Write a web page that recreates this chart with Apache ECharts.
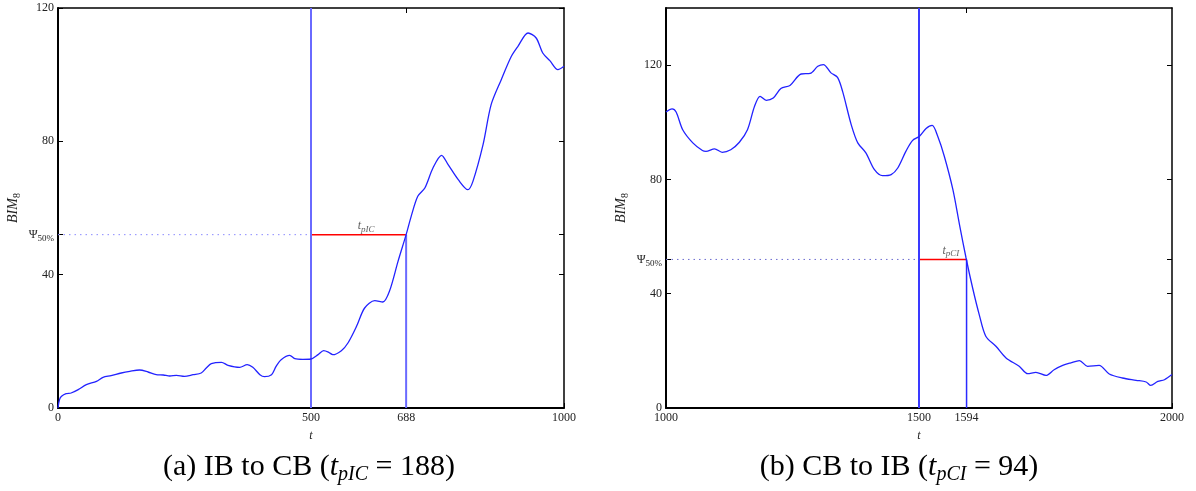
<!DOCTYPE html>
<html>
<head>
<meta charset="utf-8">
<script src="https://cdn.jsdelivr.net/npm/echarts@6/dist/echarts.min.js"></script>
<style>
  html, body { margin: 0; padding: 0; background: #fff; }
  #chart { width: 1196px; height: 491px; }
</style>
</head>
<body>
<div id="chart"></div>
<script>
// ---- Data ----
// Panel (a): IB to CB
const leftT = [0, 3, 7, 16, 26, 40, 56, 76, 89, 105, 125, 142, 161, 178, 194, 208, 221, 234, 250, 267, 283, 293, 303, 323, 336, 359, 374, 385, 399, 408, 422, 431, 441, 458, 468, 484, 500, 514, 525, 535, 543, 560, 573, 590, 606, 626, 642, 655, 672, 688, 698, 711, 725, 741, 758, 771, 791, 810, 820, 840, 856, 876, 896, 909, 929, 945, 958, 972, 988, 1000];
const leftV = [0, 2.5, 3.5, 4.3, 4.5, 5.5, 7, 8, 9.2, 9.7, 10.5, 11, 11.4, 10.8, 10, 9.9, 9.6, 9.8, 9.5, 10, 10.5, 12, 13.3, 13.7, 12.8, 12.2, 13, 12.2, 10, 9.4, 10, 12.5, 14.5, 15.8, 14.8, 14.6, 14.7, 16, 17.2, 16.7, 16, 17.2, 19.5, 24.5, 30, 32.2, 31.8, 35, 44, 52, 57.5, 63.5, 66, 72, 75.8, 73, 68.5, 65.5, 68, 79, 91, 98.5, 105.5, 108.5, 112.5, 111, 106.5, 104.2, 101.5, 102.5];
// Panel (b): CB to IB
const rightT = [1000, 1012, 1020, 1033, 1053, 1072, 1079, 1096, 1111, 1128, 1145, 1161, 1175, 1186, 1198, 1212, 1227, 1245, 1267, 1285, 1300, 1311, 1326, 1339, 1349, 1366, 1379, 1395, 1412, 1428, 1445, 1458, 1474, 1487, 1501, 1514, 1526, 1537, 1550, 1567, 1580, 1593, 1606, 1619, 1632, 1652, 1672, 1698, 1715, 1731, 1751, 1767, 1784, 1800, 1817, 1833, 1856, 1876, 1902, 1929, 1949, 1958, 1972, 1985, 2000];
const rightV = [103.6, 104.7, 103.6, 97.4, 92.8, 90.1, 89.8, 90.7, 89.5, 90.4, 93, 97.4, 105.6, 109.1, 107.7, 108.5, 111.8, 112.9, 116.9, 117.1, 119.6, 120.2, 117.3, 115.7, 110.8, 99.2, 92.8, 89.3, 83.4, 81.3, 81.7, 84, 89.8, 93.6, 95.1, 97.8, 98.9, 95.1, 88.1, 76.4, 64.2, 52.5, 42, 32.7, 25.1, 21.6, 17.5, 14.6, 12, 12.5, 11.4, 13.4, 14.9, 15.8, 16.6, 14.6, 14.9, 11.9, 10.5, 9.7, 9.1, 7.9, 9.3, 9.9, 11.7];

// Threshold / switch points
const psi50 = 52;
const leftXRange = [0, 1000];
const rightXRange = [1000, 2000];
const leftSwitch = 500, leftCross = 688;     // t_pIC = 188
const rightSwitch = 1500, rightCross = 1594; // t_pCI = 94
const leftYMax = 120, rightYMax = 140;

// Tick labels
const leftXTicks = [0, 500, 688, 1000];
const rightXTicks = [1000, 1500, 1594, 2000];
const yTicks = [0, 40, psi50, 80, 120];
const captionA = { pre: '(a) IB to CB (', sym: 't', sub: 'pIC', post: ' = 188)' };
const captionB = { pre: '(b) CB to IB (', sym: 't', sub: 'pCI', post: ' = 94)' };

// ---- Chart ----
const FONT = "'Liberation Serif', 'DejaVu Serif', serif";
const chart = echarts.init(document.getElementById('chart'), null, { renderer: 'canvas' });

const zip = (a, b) => a.map((v, i) => [v, b[i]]);

function yLabelFmt(v) {
  if (Math.abs(v - psi50) < 1e-9) return '{psi|Ψ}{sub|50%}';
  return String(v);
}
const yRich = {
  psi: { fontFamily: FONT, fontSize: 12, color: '#222' },
  sub: { fontFamily: FONT, fontSize: 9, color: '#222', padding: [8, 0, 0, 0] }
};

function makeAxes(gi, xr, xticks, ymax) {
  const xBottom = {
    type: 'value', gridIndex: gi, min: xr[0], max: xr[1], position: 'bottom',
    name: 't', nameLocation: 'middle', nameGap: 22,
    nameTextStyle: { fontFamily: FONT, fontStyle: 'italic', fontSize: 12, color: '#222' },
    axisLine: { show: true, onZero: false, lineStyle: { color: '#000', width: 2 } },
    axisTick: { show: true, inside: true, length: 5, customValues: xticks, lineStyle: { color: '#000', width: 1 } },
    axisLabel: { show: true, customValues: xticks, margin: 4, fontFamily: FONT, fontSize: 12, color: '#222', formatter: v => String(v) },
    splitLine: { show: false }
  };
  const xTop = {
    type: 'value', gridIndex: gi, min: xr[0], max: xr[1], position: 'top',
    axisLine: { show: true, onZero: false, lineStyle: { color: '#000', width: 1.5 } },
    axisTick: { show: true, inside: true, length: 5, customValues: xticks.slice(1, 3), lineStyle: { color: '#000', width: 1 } },
    axisLabel: { show: false },
    splitLine: { show: false }
  };
  const yLeft = {
    type: 'value', gridIndex: gi, min: 0, max: ymax, position: 'left',
    name: '{n|BIM}{s|8}', nameLocation: 'middle', nameGap: 36, nameRotate: 90,
    nameTextStyle: {
      rich: {
        n: { fontFamily: FONT, fontStyle: 'italic', fontSize: 14, color: '#222' },
        s: { fontFamily: FONT, fontSize: 10, color: '#222', padding: [8, 0, 0, 0] }
      }
    },
    axisLine: { show: true, onZero: false, lineStyle: { color: '#000', width: 2 } },
    axisTick: { show: true, inside: true, length: 5, customValues: yTicks, lineStyle: { color: '#000', width: 1 } },
    axisLabel: { show: true, customValues: yTicks, margin: 4, fontFamily: FONT, fontSize: 12, color: '#222', formatter: yLabelFmt, rich: yRich },
    splitLine: { show: false }
  };
  const yRight = {
    type: 'value', gridIndex: gi, min: 0, max: ymax, position: 'right',
    axisLine: { show: true, onZero: false, lineStyle: { color: '#000', width: 1.5 } },
    axisTick: { show: true, inside: true, length: 5, customValues: yTicks, lineStyle: { color: '#000', width: 1 } },
    axisLabel: { show: false },
    splitLine: { show: false }
  };
  return { x: [xBottom, xTop], y: [yLeft, yRight] };
}

const axA = makeAxes(0, leftXRange, leftXTicks, leftYMax);
const axB = makeAxes(1, rightXRange, rightXTicks, rightYMax);

function panelSeries(xi, yi, t, v, xr, sw, cr, ymax, vColor1, vColor2, vW1, vW2, dotColor, labelSub, labelX) {
  return [
    { // dotted threshold
      type: 'line', xAxisIndex: xi, yAxisIndex: yi, showSymbol: false, silent: true,
      data: [[xr[0], psi50], [sw, psi50]],
      lineStyle: { color: dotColor, width: 1, type: [1.5, 4] }, z: 2
    },
    { // red segment
      type: 'line', xAxisIndex: xi, yAxisIndex: yi, showSymbol: false, silent: true,
      data: [[sw, psi50], [cr, psi50]],
      lineStyle: { color: '#ff0000', width: 1.5 }, z: 3
    },
    { // vertical at switch
      type: 'line', xAxisIndex: xi, yAxisIndex: yi, showSymbol: false, silent: true,
      data: [[sw, 0], [sw, ymax]],
      lineStyle: { color: vColor1, width: vW1 }, z: 4
    },
    { // vertical at crossing
      type: 'line', xAxisIndex: xi, yAxisIndex: yi, showSymbol: false, silent: true,
      data: [[cr, 0], [cr, psi50]],
      lineStyle: { color: vColor2, width: vW2 }, z: 4
    },
    { // curve
      type: 'line', xAxisIndex: xi, yAxisIndex: yi, showSymbol: false, silent: true,
      smooth: 0.3, data: zip(t, v),
      lineStyle: { color: '#2222ff', width: 1.3 }, z: 5
    },
    { // label t_p..
      type: 'scatter', xAxisIndex: xi, yAxisIndex: yi, symbolSize: 0, silent: true,
      data: [[labelX, psi50]],
      label: {
        show: true, position: 'top', distance: 1,
        formatter: '{t|t}{s|' + labelSub + '}',
        rich: {
          t: { fontFamily: FONT, fontStyle: 'italic', fontSize: 12, color: '#333' },
          s: { fontFamily: FONT, fontStyle: 'italic', fontSize: 9, color: '#333', padding: [7, 0, 0, 0] }
        }
      }, z: 6
    }
  ];
}

function captionRich(c) {
  return '{a|' + c.pre + '}{i|' + c.sym + '}{s|' + c.sub + '}{a|' + c.post + '}';
}
const capRich = {
  a: { fontFamily: FONT, fontSize: 30, color: '#000' },
  i: { fontFamily: FONT, fontStyle: 'italic', fontSize: 30, color: '#000' },
  s: { fontFamily: FONT, fontStyle: 'italic', fontSize: 20, color: '#000', padding: [16, 0, 0, 0] }
};

chart.setOption({
  animation: false,
  backgroundColor: '#fff',
  grid: [
    { left: 58, top: 8, width: 506, height: 400 },
    { left: 666, top: 8, width: 506, height: 400 }
  ],
  xAxis: [...axA.x, ...axB.x],
  yAxis: [...axA.y, ...axB.y],
  series: [
    ...panelSeries(0, 0, leftT, leftV, leftXRange, leftSwitch, leftCross, leftYMax, '#6a6aff', '#6a6aff', 2, 2, '#8a8aff', 'pIC', 609),
    ...panelSeries(2, 2, rightT, rightV, rightXRange, rightSwitch, rightCross, rightYMax, '#3a3aff', '#2a2aff', 2, 1.5, '#6a6ad0', 'pCI', 1563)
  ],
  graphic: [
    { type: 'text', x: 309, y: 467, style: { text: captionRich(captionA), rich: capRich, align: 'center', verticalAlign: 'middle' } },
    { type: 'text', x: 899, y: 467, style: { text: captionRich(captionB), rich: capRich, align: 'center', verticalAlign: 'middle' } }
  ]
});
</script>
</body>
</html>
